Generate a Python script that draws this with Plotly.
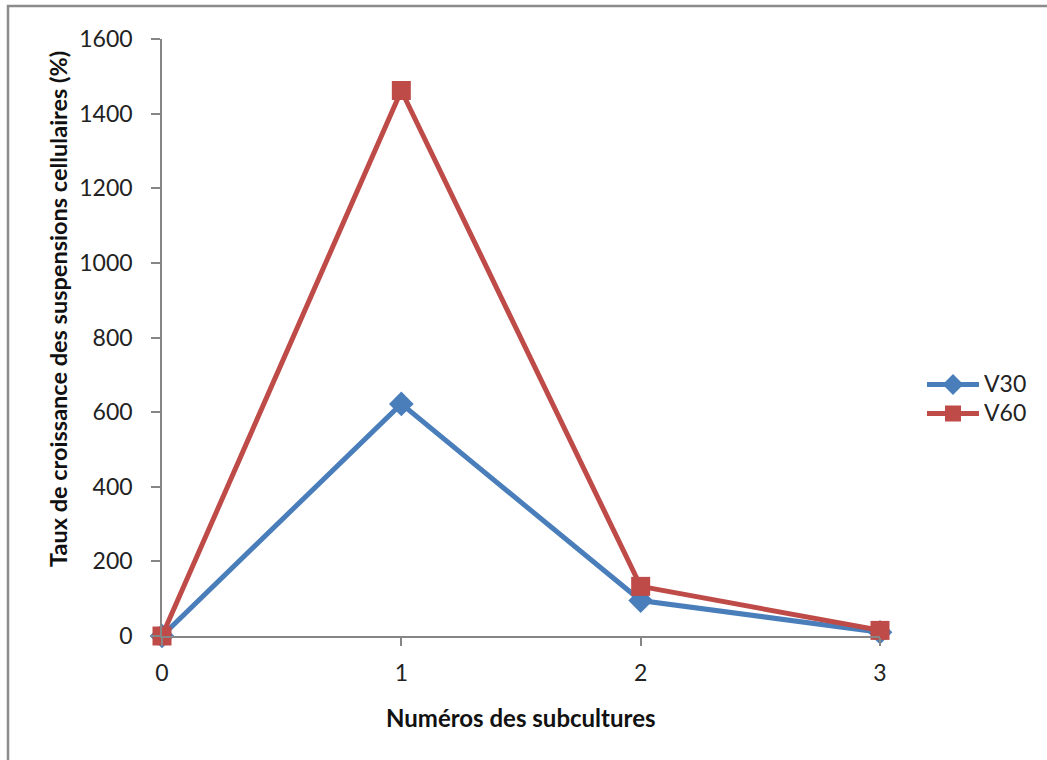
import plotly.graph_objects as go

# Subculture numbers and growth rates (%) for the two suspension volumes
subcultures = [0, 1, 2, 3]
v30 = [0, 622, 95, 10]
v60 = [0, 1462, 133, 15]
series_names = ["V30", "V60"]

BLUE = "#4A7EBB"
RED = "#BE4B48"
AXIS = "#868686"
FONT = "Lato"
TXT = "#222222"


def legend_label(name):
    # larger glyphs than the legend font, so rows stay tightly spaced
    return f"<span style='font-size:23px'>{name}</span>"


fig = go.Figure()
fig.add_trace(go.Scatter(
    x=subcultures, y=v30, name=legend_label(series_names[0]), mode="lines+markers",
    line=dict(color=BLUE, width=5),
    marker=dict(symbol="diamond", size=19, color=BLUE),
    cliponaxis=False,
))
fig.add_trace(go.Scatter(
    x=subcultures, y=v60, name=legend_label(series_names[1]), mode="lines+markers",
    line=dict(color=RED, width=5),
    marker=dict(symbol="square", size=19, color=RED),
    cliponaxis=False,
))

W, H = 1047, 760
L, R, T, B = 162, 167, 39, 124
PW, PH = W - L - R, H - T - B


def px_x(p):
    return (p - L) / PW


def px_y(p):
    return (H - B - p) / PH


fig.update_layout(
    width=W, height=H,
    margin=dict(l=L, r=R, t=T, b=B),
    paper_bgcolor="white", plot_bgcolor="white",
    font=dict(family=FONT, size=23, color=TXT),
    showlegend=True,
    legend=dict(
        x=px_x(922), y=px_y(399), xanchor="left", yanchor="middle",
        font=dict(size=20, color=TXT),
        tracegroupgap=0, itemwidth=52,
        bgcolor="rgba(0,0,0,0)",
    ),
    xaxis=dict(
        range=[0, 3], tickvals=subcultures, ticktext=[str(s) for s in subcultures],
        showgrid=False, zeroline=False,
        showline=True, linecolor=AXIS, linewidth=1.5,
        ticks="outside", ticklen=8, tickcolor=AXIS, tickwidth=1.5,
        ticklabelstandoff=8,
        tickfont=dict(size=23, color=TXT),
    ),
    yaxis=dict(
        range=[0, 1600], dtick=200,
        showgrid=False, zeroline=False,
        showline=True, linecolor=AXIS, linewidth=1.5,
        ticks="outside", ticklen=9, tickcolor=AXIS, tickwidth=1.5,
        ticklabelstandoff=14,
        tickfont=dict(size=23, color=TXT),
    ),
    shapes=[
        # chart frame, open at the right and bottom edges of the page
        dict(type="rect", xref="paper", yref="paper",
             x0=px_x(8), x1=px_x(W + 20),
             y0=px_y(H + 20), y1=px_y(6),
             line=dict(color="#8C8C8C", width=2.5), fillcolor="rgba(0,0,0,0)",
             layer="below"),
    ],
    annotations=[
        dict(text="<b>Numéros des subcultures</b>", xref="paper", yref="paper",
             x=0.5, y=px_y(717), xanchor="center", yanchor="middle",
             showarrow=False, font=dict(size=24, color="#111111")),
        dict(text="<b>Taux de croissance des suspensions cellulaires (%)</b>",
             xref="paper", yref="paper", textangle=-90,
             x=px_x(58), y=px_y(309),
             xanchor="center", yanchor="middle",
             showarrow=False, font=dict(size=23.5, color="#111111")),
    ],
)

fig.write_html("out.html")
